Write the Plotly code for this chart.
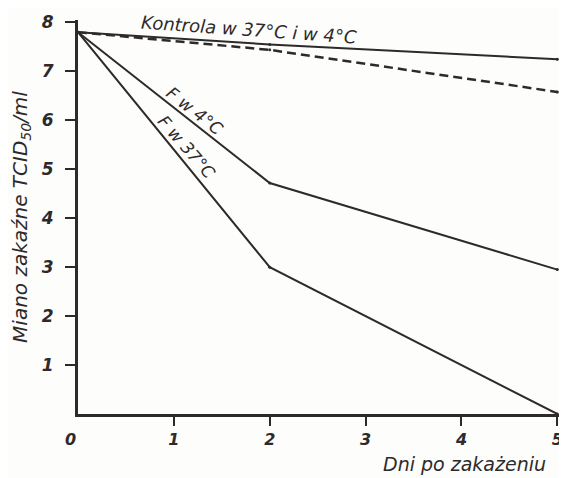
import plotly.graph_objects as go

days = [0, 2, 5]
kontrola_37 = [7.8, 7.55, 7.25]
kontrola_4 = [7.8, 7.44, 6.58]
f_4 = [7.8, 4.72, 2.95]
f_37 = [7.8, 3.0, 0.0]

x_ticks = [1, 2, 3, 4, 5]
y_ticks = [1, 2, 3, 4, 5, 6, 7, 8]

ink = "#2e2a2a"
fnt = dict(family="DejaVu Sans", color=ink, style="italic")
bold = dict(family="DejaVu Sans", color=ink, style="italic", weight="bold")

fig = go.Figure()
fig.add_trace(go.Scatter(x=days, y=kontrola_37, mode="lines+markers",
                         line=dict(color=ink, width=2), marker=dict(size=3, color=ink)))
fig.add_trace(go.Scatter(x=days, y=kontrola_4, mode="lines+markers",
                         line=dict(color=ink, width=2.5, dash="9px,5px"), marker=dict(size=3, color=ink)))
fig.add_trace(go.Scatter(x=days, y=f_4, mode="lines+markers",
                         line=dict(color=ink, width=2), marker=dict(size=3, color=ink)))
fig.add_trace(go.Scatter(x=days, y=f_37, mode="lines+markers",
                         line=dict(color=ink, width=2), marker=dict(size=3, color=ink)))

fig.update_layout(
    width=559, height=470,
    margin=dict(l=70, r=2, t=12, b=64),
    paper_bgcolor="#fdfdfb", plot_bgcolor="#fdfdfb",
    showlegend=False,
    font=dict(size=15, **fnt),
    xaxis=dict(range=[0, 5.08], tickvals=x_ticks, ticktext=[str(v) for v in x_ticks],
               showgrid=False, zeroline=False, showline=True, linecolor=ink, linewidth=3,
               ticks="outside", ticklen=9, tickwidth=2, tickcolor=ink,
               tickfont=dict(size=16, **bold)),
    yaxis=dict(range=[0, 8.05], tickvals=y_ticks, ticktext=[str(v) for v in y_ticks],
               showgrid=False, zeroline=False, showline=True, linecolor=ink, linewidth=3,
               ticks="outside", ticklen=10, tickwidth=2, tickcolor=ink,
               ticklabelstandoff=8,
               tickfont=dict(size=17, **bold),
               title=dict(text="Miano zakaźne TCID<sub>50</sub>/ml", standoff=16,
                          font=dict(size=20, **fnt))),
    annotations=[
        dict(text="0", x=-0.015, y=-0.035, xref="paper", yref="paper", showarrow=False,
             xanchor="center", yanchor="top", font=dict(size=16, **bold)),
        dict(text="Dni po zakażeniu", x=0.965, y=-0.095, xref="paper", yref="paper",
             showarrow=False, xanchor="right", yanchor="top", font=dict(size=19, **fnt)),
        dict(text="Kontrola w 37°C i w 4°C", x=1.78, y=7.85, xref="x", yref="y",
             showarrow=False, xanchor="center", yanchor="middle", textangle=4,
             font=dict(size=18, **fnt)),
        dict(text="F w 4°C", x=1.22, y=6.2, xref="x", yref="y",
             showarrow=False, textangle=38, font=dict(size=17, **fnt)),
        dict(text="F w 37°C", x=1.13, y=5.45, xref="x", yref="y",
             showarrow=False, textangle=49, font=dict(size=17, **fnt)),
    ],
)

fig.write_html("out.html")
